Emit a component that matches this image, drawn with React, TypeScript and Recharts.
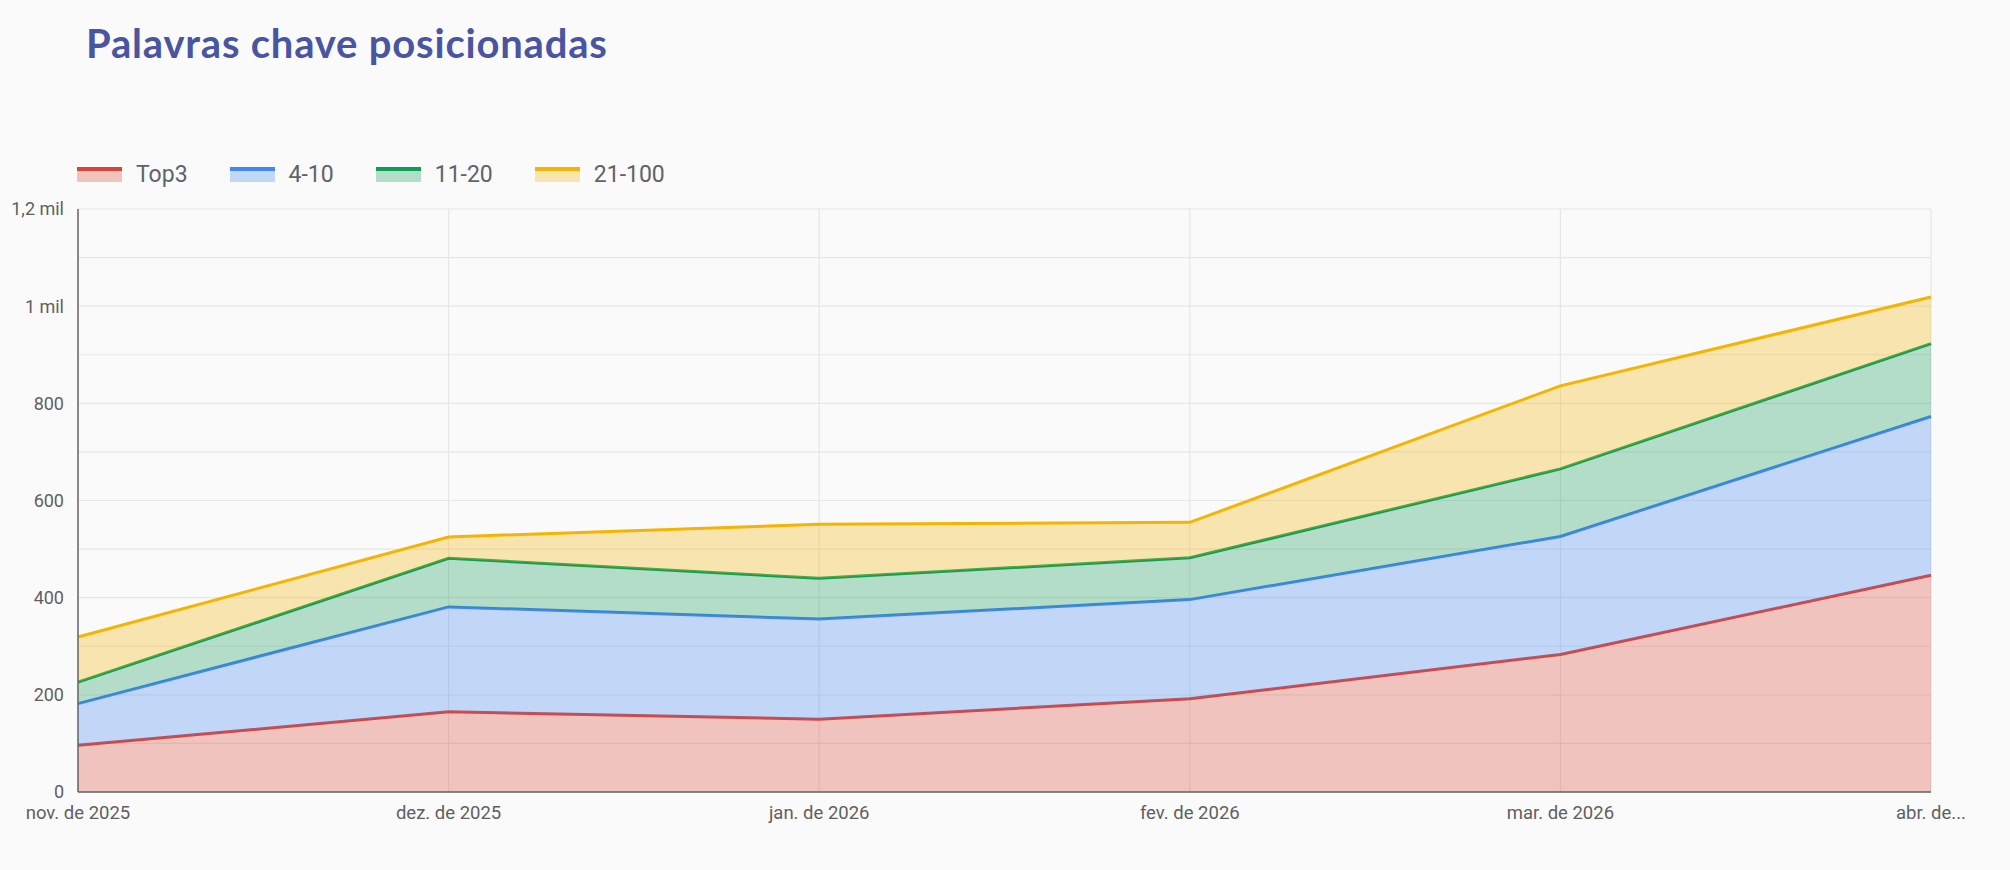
import { AreaChart, Area, XAxis, YAxis, CartesianGrid } from "recharts";

const months = [
  "nov. de 2025",
  "dez. de 2025",
  "jan. de 2026",
  "fev. de 2026",
  "mar. de 2026",
  "abr. de 2026",
];
const top3 = [96, 165, 150, 192, 283, 446];
const pos4to10 = [86, 216, 206, 204, 243, 327];
const pos11to20 = [44, 100, 84, 86, 139, 150];
const pos21to100 = [93, 44, 111, 73, 171, 96];
const yTicks = [0, 100, 200, 300, 400, 500, 600, 700, 800, 900, 1000, 1100, 1200];

const series = [
  { key: "top3", name: "Top3", color: "#db4437" },
  { key: "p4to10", name: "4-10", color: "#4285f4" },
  { key: "p11to20", name: "11-20", color: "#0f9d58" },
  { key: "p21to100", name: "21-100", color: "#f4b400" },
];

const data = months.map((month, i) => ({
  month,
  top3: top3[i],
  p4to10: pos4to10[i],
  p11to20: pos11to20[i],
  p21to100: pos21to100[i],
}));

const formatY = (v: number) => {
  if (v % 200 !== 0) return "";
  if (v >= 1000) return `${String(v / 1000).replace(".", ",")} mil`;
  return String(v);
};

// last label is cut off in the original
const formatX = (v: string, i: number) =>
  i === months.length - 1 ? v.slice(0, 7) + "..." : v;

const Legend = () => (
  <div
    style={{
      position: "absolute",
      left: 77,
      top: 161,
      display: "flex",
      alignItems: "center",
      gap: 42,
      fontFamily: "Roboto",
      fontSize: 23,
      color: "#5f6368",
    }}
  >
    {series.map((s) => (
      <div key={s.key} style={{ display: "flex", alignItems: "center", gap: 14 }}>
        <div style={{ width: 45, height: 15, position: "relative" }}>
          <div style={{ position: "absolute", inset: 0, background: s.color, opacity: 0.3 }} />
          <div style={{ position: "absolute", left: 0, right: 0, top: 0, height: 4, background: s.color }} />
        </div>
        <span>{s.name}</span>
      </div>
    ))}
  </div>
);

export default function App() {
  return (
    <div
      style={{
        position: "fixed",
        left: 0,
        top: 0,
        width: 2010,
        height: 870,
        background: "#fafafa",
        overflow: "hidden",
      }}
    >
      <div
        style={{
          position: "absolute",
          left: 86,
          top: 19,
          fontFamily: "Lato",
          fontWeight: 700,
          fontSize: 40,
          letterSpacing: 0.8,
          color: "#4a55a2",
        }}
      >
        Palavras chave posicionadas
      </div>
      <Legend />
      <div style={{ position: "absolute", left: 0, top: 0 }}>
        <AreaChart
          width={2010}
          height={870}
          data={data}
          margin={{ top: 209, right: 79, bottom: 38, left: 0 }}
        >
          <CartesianGrid stroke="#e6e6e6" strokeWidth={1.2} />
          <XAxis
            dataKey="month"
            height={40}
            tickLine={false}
            axisLine={{ stroke: "#666", strokeWidth: 1.5 }}
            tick={{ fill: "#5f5f5f", fontSize: 18.5, fontFamily: "Roboto" }}
            tickMargin={8}
            tickFormatter={formatX}
            interval={0}
          />
          <YAxis
            width={78}
            domain={[0, 1200]}
            ticks={yTicks}
            interval={0}
            tickLine={false}
            axisLine={{ stroke: "#666", strokeWidth: 1.5 }}
            tick={{ fill: "#5f5f5f", fontSize: 18, fontFamily: "Roboto" }}
            tickMargin={8}
            tickFormatter={formatY}
          />
          {series.map((s) => (
            <Area
              key={s.key}
              type="linear"
              dataKey={s.key}
              name={s.name}
              stackId="1"
              stroke={s.color}
              strokeWidth={3}
              fill={s.color}
              fillOpacity={0.3}
              isAnimationActive={false}
              dot={false}
              activeDot={false}
            />
          ))}
        </AreaChart>
      </div>
    </div>
  );
}
